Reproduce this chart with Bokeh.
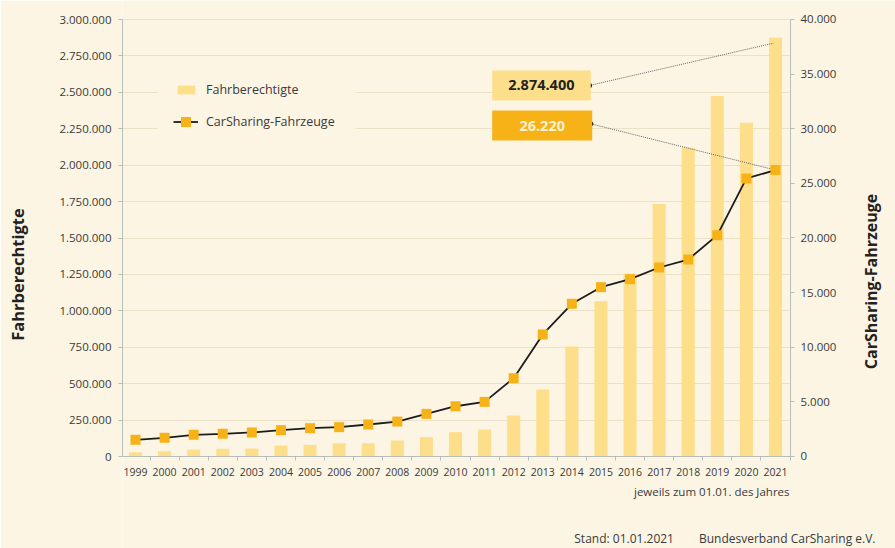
from math import pi
from bokeh.plotting import figure
from bokeh.models import (Range1d, LinearAxis, FixedTicker, Legend, LegendItem,
                          Label, BoxAnnotation)
from bokeh.embed import file_html
from bokeh.resources import INLINE

# ---------------- data ----------------
years = list(range(1999, 2022))
year_labels = [str(y) for y in years]
fahrberechtigte = [29500, 36000, 48000, 53000, 55000, 75000, 80000, 91000, 91000,
                   110000, 133000, 167000, 185000, 281000, 460000, 755000, 1065000,
                   1255000, 1734000, 2120000, 2474000, 2291000, 2874400]
fahrzeuge = [1530, 1710, 1985, 2075, 2200, 2410, 2590, 2685, 2930, 3200, 3900,
             4600, 5000, 7170, 11170, 13980, 15500, 16230, 17300, 18030, 20260,
             25450, 26220]
left_ticks = [0, 250000, 500000, 750000, 1000000, 1250000, 1500000, 1750000,
              2000000, 2250000, 2500000, 2750000, 3000000]
left_tick_labels = ["0", "250.000", "500.000", "750.000", "1.000.000", "1.250.000",
                    "1.500.000", "1.750.000", "2.000.000", "2.250.000", "2.500.000",
                    "2.750.000", "3.000.000"]
right_ticks = [0, 5000, 10000, 15000, 20000, 25000, 30000, 35000, 40000]
right_tick_labels = ["0", "5.000", "10.000", "15.000", "20.000", "25.000", "30.000",
                     "35.000", "40.000"]
boundaries = [y - 0.5 for y in years] + [years[-1] + 0.5]

# ---------------- style ----------------
BG = "#fcf5e4"
BAR = "#fddf8b"
ORANGE = "#f7b218"
AXIS = "#b8bdb9"
TXT = "#3a3a3a"
FONT = "Open Sans"
NB = "\u00a0"

# the frame covers the whole canvas right of the left axis; axes are fixed inside it
X0, XR, X1 = 1998.553, 2021.516, 2025.125
L_MAX, L_LO, L_HI = 3000000, -631579, 3130435
R_MAX, R_LO, R_HI = 40000, -8421.05, 41739.1

p = figure(width=895, height=548, output_backend="svg", toolbar_location=None,
           x_range=Range1d(X0, X1), y_range=Range1d(L_LO, L_HI),
           min_border_left=122, min_border_right=0, min_border_top=0,
           min_border_bottom=0)
p.background_fill_color = BG
p.border_fill_color = BG
p.outline_line_color = None
p.extra_y_ranges = {"veh": Range1d(R_LO, R_HI)}

# grid
p.xgrid.visible = False
p.ygrid.ticker = FixedTicker(ticks=left_ticks)
p.ygrid.grid_line_color = "#ebe1c7"
p.ygrid.grid_line_width = 1

# hide grid right of the right axis
p.add_layout(BoxAnnotation(left=XR, fill_color=BG, fill_alpha=1, line_color=None,
                           level="underlay"))

# x axis (fixed at y = 0)
xa = p.xaxis[0]
xa.fixed_location = 0
xa.bounds = (X0, XR)
xa.ticker = FixedTicker(ticks=years, minor_ticks=boundaries)
xa.major_label_overrides = {y: l for y, l in zip(years, year_labels)}
xa.major_tick_in = 0
xa.major_tick_out = 0
xa.minor_tick_in = 0
xa.minor_tick_out = 4
xa.minor_tick_line_color = AXIS
xa.axis_line_color = AXIS
xa.major_label_standoff = 7
xa.major_label_text_font = FONT
xa.major_label_text_font_size = "10.5px"
xa.major_label_text_color = TXT

# left axis
ya = p.yaxis[0]
ya.bounds = (0, L_MAX)
ya.ticker = FixedTicker(ticks=left_ticks)
ya.major_label_overrides = {t: l for t, l in zip(left_ticks, left_tick_labels)}
ya.major_tick_in = 0
ya.major_tick_out = 4
ya.minor_tick_line_color = None
ya.major_tick_line_color = AXIS
ya.axis_line_color = AXIS
ya.major_label_standoff = 7
ya.major_label_text_font = FONT
ya.major_label_text_font_size = "11.5px"
ya.major_label_text_color = TXT
ya.axis_label = "Fahrberechtigte"
ya.axis_label_standoff = 27
ya.axis_label_text_font = FONT
ya.axis_label_text_font_style = "bold"
ya.axis_label_text_font_size = "16.5px"
ya.axis_label_text_color = "#222"

# right axis (fixed at the right end of the data area)
ra = LinearAxis(y_range_name="veh", ticker=FixedTicker(ticks=right_ticks),
                fixed_location=XR, bounds=(0, R_MAX))
ra.major_label_overrides = {t: l for t, l in zip(right_ticks, right_tick_labels)}
ra.major_tick_in = 0
ra.major_tick_out = 4
ra.minor_tick_line_color = None
ra.major_tick_line_color = AXIS
ra.axis_line_color = AXIS
ra.major_label_standoff = 6
ra.major_label_text_font = FONT
ra.major_label_text_font_size = "11.5px"
ra.major_label_text_color = TXT
p.add_layout(ra, "right")

# right axis title
p.add_layout(Label(x=2024.266, y=1201373, text="CarSharing-Fahrzeuge", angle=pi / 2,
                   text_align="center", text_baseline="middle", text_font=FONT,
                   text_font_style="bold", text_font_size="16px", text_color="#222"))

# footer texts
p.add_layout(Label(x=2021.482, y=-240275, text="jeweils zum 01.01. des Jahres",
                   text_align="right", text_baseline="middle", text_font=FONT,
                   text_font_size="11.5px", text_color=TXT))
p.add_layout(Label(x=2024.438, y=-562929,
                   text="Stand: 01.01.2021" + NB * 8 + "Bundesverband CarSharing e.V.",
                   text_align="right", text_baseline="middle", text_font=FONT,
                   text_font_size="12px", text_color=TXT))

# ---------------- glyphs ----------------
bars = p.vbar(x=years, top=fahrberechtigte, width=0.45, fill_color=BAR, line_color=None)

# callout lines (behind the series line/markers)
p.line([2014.606, years[-1] - 0.08], [2546911, fahrberechtigte[-1] * 0.987],
       line_color="#666", line_width=1, line_dash="1 1")
p.line([2014.65, years[-1]], [30453, fahrzeuge[-1]], y_range_name="veh",
       line_color="#666", line_width=1, line_dash="1 1")

ln = p.line(years, fahrzeuge, y_range_name="veh", line_color="#1c1c1c", line_width=1.8)
sc = p.scatter(years, fahrzeuge, y_range_name="veh", marker="square", size=10,
               fill_color=ORANGE, line_color=None)

# legend background (hides gridlines behind the legend)
p.add_layout(BoxAnnotation(left=1999.756, right=2006.563, bottom=2107551, top=2704805,
                           fill_color=BG, fill_alpha=1, line_color=None))

legA = Legend(items=[LegendItem(label="Fahrberechtigte", renderers=[bars])],
              location=(53, 450), padding=0, margin=0, spacing=0,
              glyph_width=22, glyph_height=11, label_height=11, label_standoff=9,
              background_fill_alpha=0, border_line_color=None,
              label_text_font=FONT, label_text_font_size="12.5px", label_text_color=TXT)
legB = Legend(items=[LegendItem(label="CarSharing-Fahrzeuge", renderers=[ln, sc])],
              location=(51, 414), padding=0, margin=0, spacing=0,
              glyph_width=25, glyph_height=25, label_height=25, label_standoff=8,
              background_fill_alpha=0, border_line_color=None,
              label_text_font=FONT, label_text_font_size="12.5px", label_text_color=TXT)
p.add_layout(legA)
p.add_layout(legB)

# value boxes
p.add_layout(BoxAnnotation(left=2011.262, right=2014.651, bottom=2443936, top=2649886,
                           fill_color=BAR, fill_alpha=1, line_color=None))
p.add_layout(BoxAnnotation(left=2011.262, right=2014.700, bottom=2169336, top=2375286,
                           fill_color=ORANGE, fill_alpha=1, line_color=None))
p.scatter([2014.606], [2546911], size=5, fill_color="#111", line_color=None)
p.scatter([2014.65], [30453], y_range_name="veh", size=5, fill_color="#111", line_color=None)

p.add_layout(Label(x=2012.95, y=2546911, text=f"{fahrberechtigte[-1]:,}".replace(",", "."),
                   text_align="center", text_baseline="middle", text_font=FONT,
                   text_font_style="bold", text_font_size="14.5px", text_color="#222"))
p.add_layout(Label(x=2012.98, y=2272311, text=f"{fahrzeuge[-1]:,}".replace(",", "."),
                   text_align="center", text_baseline="middle", text_font=FONT,
                   text_font_style="bold", text_font_size="14.5px", text_color="#fdf1d4"))

open("out.html", "w").write(file_html(p, INLINE))
